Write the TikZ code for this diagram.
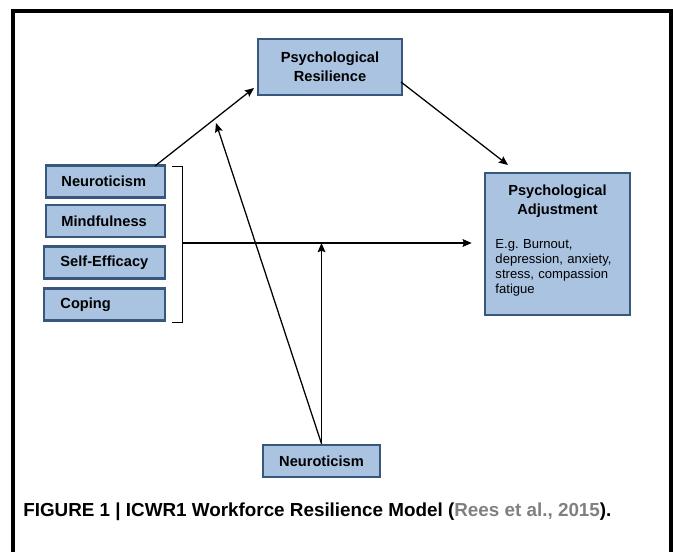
\documentclass[tikz,border=0pt]{standalone}
\usepackage{fontspec}
\setmainfont{Liberation Sans}
\usepackage{tikz}
\usetikzlibrary{arrows.meta,positioning}
\usepackage{xcolor}
\definecolor{boxblue}{RGB}{169,195,224}
\definecolor{boxedge}{RGB}{56,87,125}
\definecolor{citegrey}{RGB}{128,128,128}
\tikzstyle{arrow} = [line width=0.9pt,-{Stealth[length=6.5pt,width=5.5pt,inset=1pt]}]

\begin{document}
\begin{tikzpicture}[x=0.025cm, y=-0.025cm,
    box/.style={rectangle, draw=boxedge, line width=1.8pt, fill=boxblue, font=\bfseries\fontsize{10.4}{13.5}\selectfont},
    trait/.style={box, minimum width=2.975cm, minimum height=0.8cm, text width=2.2cm, inner xsep=0.35cm, align=left}
]
\useasboundingbox (0,0) rectangle (673,552);
% Outer frame (open at the bottom)
\draw[line width=2.2pt] (13,552) -- (13,11) -- (671,11) -- (671,552);

% Predictors
\node[trait] (neuro) at (105.5,181.5) {Neuroticism};
\node[trait] (mind) at (105.5,221) {Mindfulness};
\node[trait, minimum width=3.025cm] (selfeff) at (104.5,262.5) {Self-Efficacy};
\node[trait, minimum width=3.025cm] (coping) at (104.5,304.5) {Coping};

% Resilience and outcome
\node[box, minimum width=3.6cm, minimum height=1.4cm, align=center] (resil) at (330,67) {Psychological\\Resilience};
\node[box, minimum width=3.625cm, minimum height=3.55cm] (adjust) at (557.5,244) {};
\node[anchor=north, text width=3.1cm, inner sep=0pt, font=\fontsize{9.3}{10.8}\selectfont] (adjtext) at (557.5,185)
    {\frenchspacing\centering{\bfseries\fontsize{10.4}{13.5}\selectfont Psychological\\Adjustment\par}\vspace{13pt}\raggedright E.g. Burnout,\\depression, anxiety,\\stress, compassion\\fatigue\par};

% Moderator
\node[box, minimum width=2.925cm, minimum height=0.8cm] (modneuro) at (321.5,461) {Neuroticism};

% Bracket round the predictors
\coordinate (brtop) at (182,166);
\coordinate (brbot) at (182,322);
\coordinate (brmid) at (182,243);
\draw[line width=0.6pt] ([xshift=-0.25cm]brtop) -- (brtop) -- (brbot) -- ([xshift=-0.25cm]brbot);

% Paths
\coordinate (nstart) at (155,166);
\coordinate (rend) at (254,88);
\coordinate (rstart) at (401,82);
\coordinate (aend) at (508,165);
\coordinate (modpt) at (216,123);
\draw[arrow] (nstart) -- (rend);
\draw[arrow] (rstart) -- (aend);
\draw[arrow] (brmid) -- (brmid -| adjust.west) [shorten >=0.3cm];
\draw[arrow] (modneuro.north) -- (modpt);
\draw[arrow] (modneuro.north) -- (modneuro.north |- brmid);

% Caption
\node[anchor=base west, inner sep=0pt, font=\bfseries\fontsize{13.4}{16}\selectfont] (caption) at (23,516)
    {FIGURE 1 | ICWR1 Workforce Resilience Model (\textcolor{citegrey}{Rees et al., 2015}).};
\end{tikzpicture}
\end{document}
